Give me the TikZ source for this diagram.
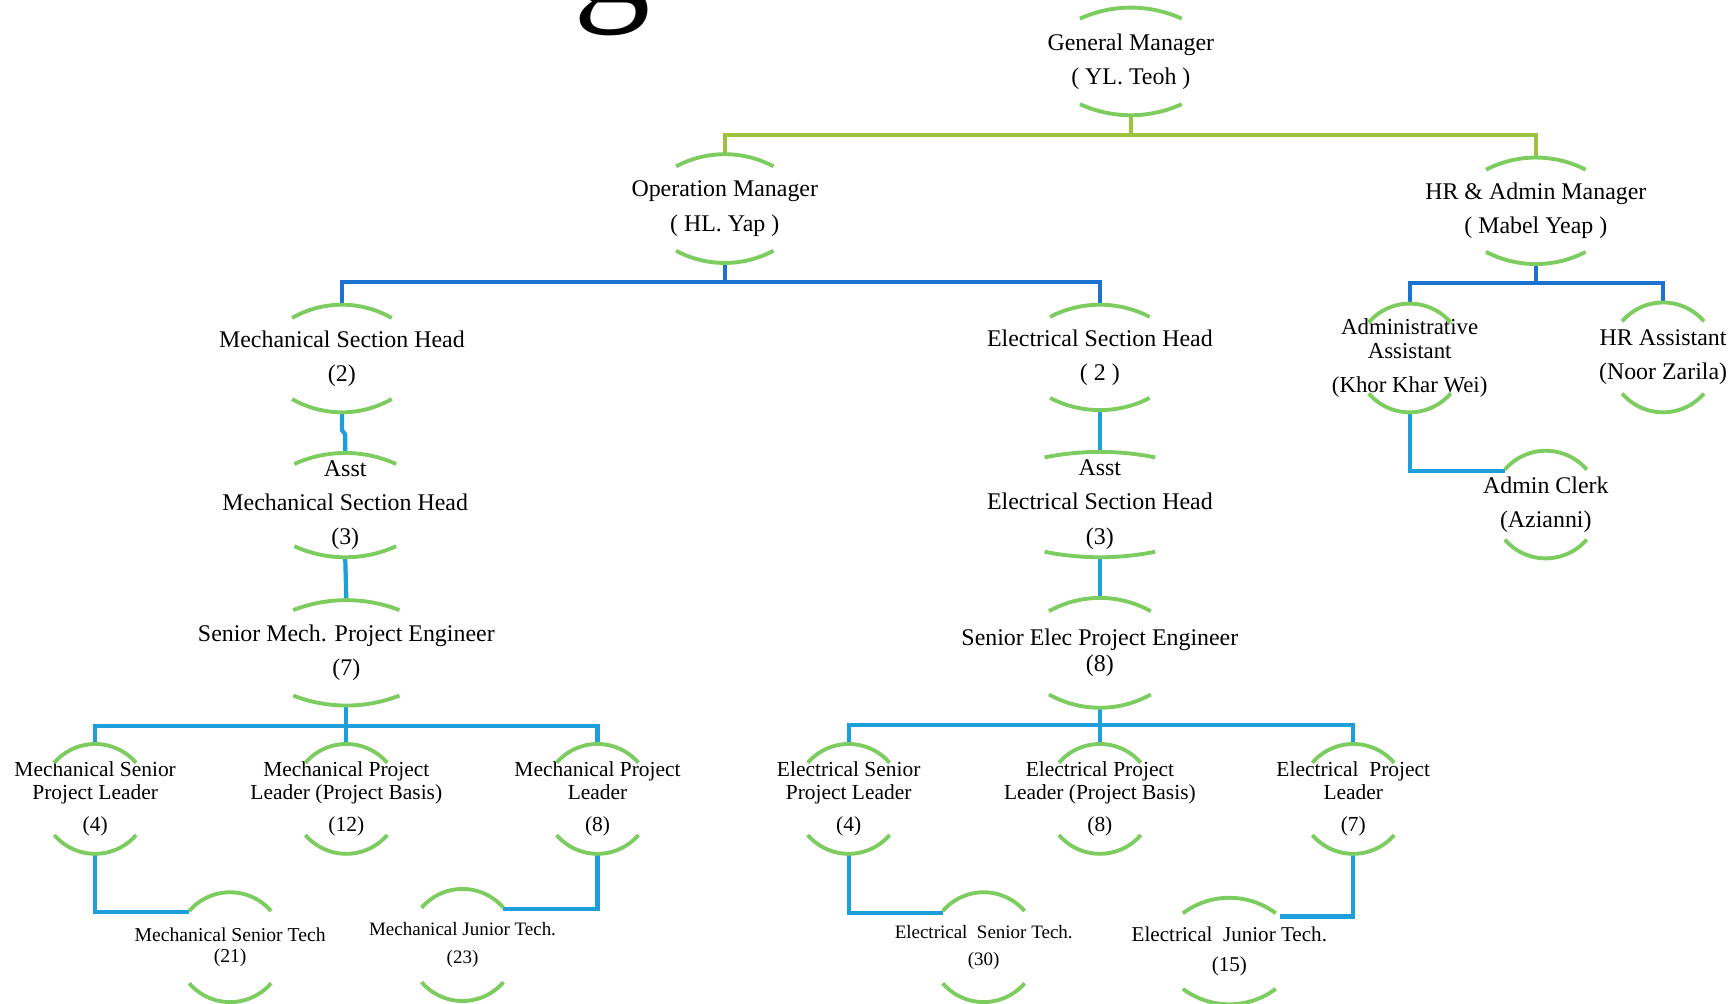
\documentclass[tikz,border=0pt]{standalone}
\usepackage{fontspec}
\setmainfont{Liberation Serif}
\usepackage{tikz}
\usetikzlibrary{calc}

\definecolor{rimgreen}{HTML}{7CCC60}
\definecolor{goldgreen}{HTML}{9DC23B}
\definecolor{deepblue}{HTML}{1B72CF}
\definecolor{skyblue}{HTML}{1E9FDC}

\newcommand{\px}{0.011065cm}
% green arcs above and below a role: half width, sag
\newcommand{\rims}[3]{%
  \pgfmathsetmacro{\rr}{(#2*#2+#3*#3)/(2*#3)}%
  \pgfmathsetmacro{\ph}{asin(#2/\rr)}%
  \draw[rim] ($(#1.north)+(0,\rr)+(-90-\ph:\rr)$) arc[start angle=-90-\ph, end angle=-90+\ph, radius=\rr];
  \draw[rim] ($(#1.south)+(0,-\rr)+(90+\ph:\rr)$) arc[start angle=90+\ph, end angle=90-\ph, radius=\rr];}

\tikzset{
  role/.style={align=center, inner sep=0pt, minimum height=96*\px, font=\fontsize{6.8}{9.7}\selectfont},
  leafrole/.style={role, minimum height=98*\px, font=\fontsize{6.1}{6.7}\selectfont},
  techrole/.style={role, minimum height=98*\px, font=\fontsize{5.4}{7.8}\selectfont},
  rim/.style={draw=rimgreen, line width=1.1pt},
  goldwire/.style={draw=goldgreen, line width=1.2pt},
  deepwire/.style={draw=deepblue, line width=1.2pt},
  skywire/.style={draw=skyblue, line width=1.2pt}
}

\begin{document}
\begin{tikzpicture}[x=\px, y=-\px]
        \useasboundingbox (0,0) rectangle (1568,907);
        \node[font=\fontsize{44}{44}\selectfont, anchor=base, inner sep=0pt] at (553,2) (ttl){g};

        % top levels
        \node[role] at (1022,55.5) (gm){General Manager\\( YL. Teoh )};
        \node[role, minimum height=97*\px] at (655,188.5) (om){Operation Manager\\( HL. Yap )};
        \node[role, minimum height=95*\px] at (1388,190.5) (hr){HR \& Admin Manager\\( Mabel Yeap )};

        % mechanical column
        \node[role] at (309,324) (msh){Mechanical Section Head\\(2)};
        \node[role, minimum height=93*\px] at (312,456.5) (amsh){Asst\\Mechanical Section Head\\(3)};
        \node[role, minimum height=94*\px] at (313,590) (smpe){Senior Mech. Project Engineer\\(7)};
        \node[leafrole] at (86,722) (msl){Mechanical Senior\\Project Leader\\[2.4pt](4)};
        \node[leafrole] at (313,722) (mpb){Mechanical Project\\Leader (Project Basis)\\[2.4pt](12)};
        \node[leafrole] at (540,722) (mpl){Mechanical Project\\Leader\\[2.4pt](8)};
        \node[techrole, font=\fontsize{5.6}{5.8}\selectfont] at (208,856) (mst){Mechanical Senior Tech\\(21)};
        \node[techrole, minimum height=100*\px] at (418,854) (mjt){Mechanical Junior Tech.\\(23)};

        % electrical column
        \node[role, minimum height=94*\px] at (994,323) (esh){Electrical Section Head\\( 2 )};
        \node[role, minimum height=94*\px] at (994,456) (aesh){Asst\\Electrical Section Head\\(3)};
        \node[role, minimum height=98*\px, font=\fontsize{6.8}{7.3}\selectfont] at (994,590) (sepe){Senior Elec Project Engineer\\(8)};
        \node[leafrole] at (767,722) (esl){Electrical Senior\\Project Leader\\[2.4pt](4)};
        \node[leafrole] at (994,722) (epb){Electrical Project\\Leader (Project Basis)\\[2.4pt](8)};
        \node[leafrole] at (1223,722) (epl){Electrical\ \ Project\\Leader\\[2.4pt](7)};
        \node[techrole] at (889,856) (est){Electrical\ \ Senior Tech.\\(30)};
        \node[techrole, minimum height=95*\px, font=\fontsize{6}{8.5}\selectfont] at (1111,859.5) (ejt){Electrical\ \ Junior Tech.\\(15)};

        % admin column
        \node[role, minimum height=97*\px, font=\fontsize{6.5}{6.9}\selectfont] at (1274,323.5) (aa){Administrative\\Assistant\\[2.8pt](Khor Khar Wei)};
        \node[role, minimum height=98*\px] at (1503,323) (hra){HR Assistant\\(Noor Zarila)};
        \node[role] at (1397,456) (ac){Admin Clerk\\(Azianni)};

        \coordinate (gmbus) at (1022,122);
        \coordinate (ombus) at (655,255);
        \coordinate (hrbus) at (1388,256);
        \coordinate (smbus) at (313,656);
        \coordinate (sebus) at (994,655);

        % connectors
        \draw[goldwire] (gm.south) -- (gmbus);
        \draw[goldwire] (om.north) |- (gmbus) -| (hr.north);
        \draw[deepwire] (om.south) -- (ombus);
        \draw[deepwire] (msh.north) |- (ombus) -| (esh.north);
        \draw[deepwire] (hr.south) -- (hrbus);
        \draw[deepwire] (aa.north) |- (hrbus) -| (hra.north);
        \draw[skywire] (msh.south) -- ++(0,16) -- ++(3,4) -- (amsh.north);
        \draw[skywire] (amsh.south) -- (smpe.north);
        \draw[skywire] (smpe.south) -- (smbus);
        \draw[skywire] (msl.north) |- (smbus) -| (mpl.north);
        \draw[skywire] (mpb.north) -- (smbus);
        \draw[skywire] (msl.south) |- ($(mst.north)+(-37,18)$);
        \draw[skywire] (mpl.south) |- ($(mjt.north)+(37,18)$);
        \draw[skywire] (esh.south) -- (aesh.north);
        \draw[skywire] (aesh.south) -- (sepe.north);
        \draw[skywire] (sepe.south) -- (sebus);
        \draw[skywire] (esl.north) |- (sebus) -| (epl.north);
        \draw[skywire] (epb.north) -- (sebus);
        \draw[skywire] (esl.south) |- ($(est.north)+(-37,19)$);
        \draw[skywire] (epl.south) |- ($(ejt.north)+(46,17)$);
        \draw[skywire] (aa.south) |- ($(ac.north)+(-37,18)$);

        % arcs
        \rims{gm}{46}{10}
        \rims{om}{44}{11}
        \rims{hr}{45}{11}
        \rims{msh}{45}{12}
        \rims{amsh}{46}{10}
        \rims{smpe}{48}{9}
        \rims{msl}{37}{17}
        \rims{mpb}{37}{17}
        \rims{mpl}{37}{17}
        \rims{mst}{37}{17}
        \rims{mjt}{37}{17}
        \rims{esh}{45}{11}
        \rims{aesh}{50}{5}
        \rims{sepe}{46}{12}
        \rims{esl}{37}{17}
        \rims{epb}{37}{17}
        \rims{epl}{37}{17}
        \rims{est}{37}{17}
        \rims{ejt}{42}{14}
        \rims{aa}{37}{17}
        \rims{hra}{37}{17}
        \rims{ac}{37}{17}
\end{tikzpicture}
\end{document}
